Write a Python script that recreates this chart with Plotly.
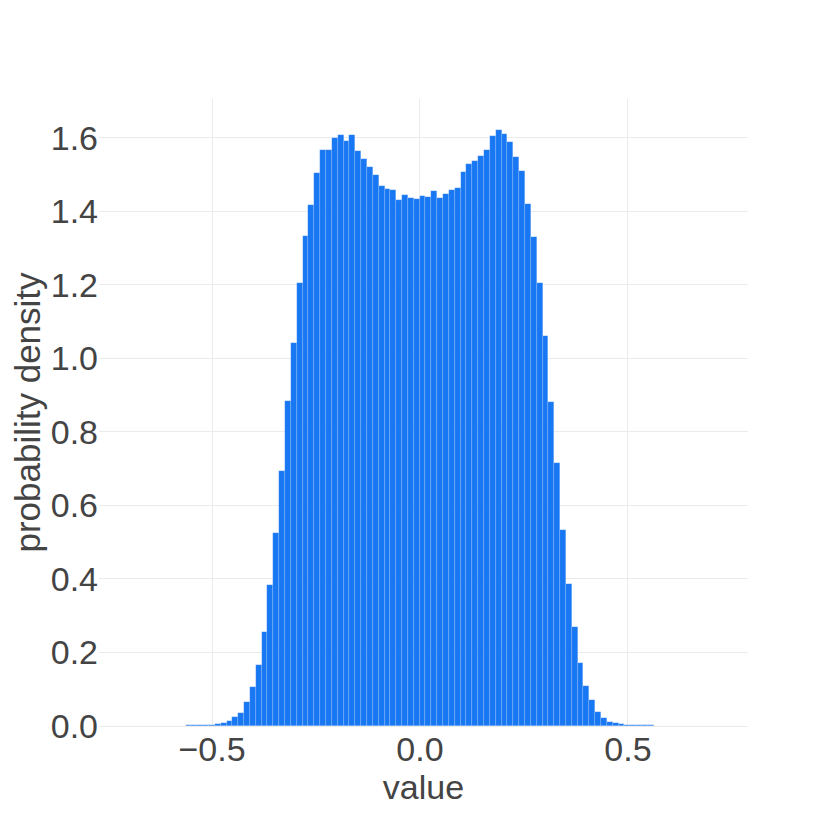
import numpy as np
import plotly.graph_objects as go

# Histogram (probability density), 100 equal bins
bin_start = -0.6903
bin_width = 0.01407
density = [
    0.0002, 0.0003, 0.0003, 0.0004, 0.0005, 0.0006, 0.0008, 0.0010,
    0.0012, 0.0015, 0.0020, 0.0025, 0.0030, 0.0038, 0.0055, 0.0090,
    0.0135, 0.0240, 0.0360, 0.0650, 0.1050, 0.1650, 0.2560, 0.3830,
    0.5250, 0.6930, 0.8840, 1.0430, 1.2040, 1.3330, 1.4170, 1.5040,
    1.5660, 1.5660, 1.6000, 1.6080, 1.5910, 1.6070, 1.5630, 1.5430,
    1.5200, 1.4980, 1.4680, 1.4610, 1.4580, 1.4310, 1.4440, 1.4360,
    1.4330, 1.4410, 1.4390, 1.4550, 1.4370, 1.4460, 1.4570, 1.4630,
    1.5060, 1.5290, 1.5370, 1.5490, 1.5660, 1.6050, 1.6200, 1.6110,
    1.5890, 1.5470, 1.5100, 1.4190, 1.3300, 1.2050, 1.0620, 0.8800,
    0.7150, 0.5330, 0.3850, 0.2680, 0.1700, 0.1090, 0.0710, 0.0380,
    0.0220, 0.0120, 0.0070, 0.0045, 0.0035, 0.0030, 0.0025, 0.0020,
    0.0015, 0.0012, 0.0010, 0.0008, 0.0006, 0.0005, 0.0004, 0.0003,
    0.0003, 0.0002, 0.0002, 0.0001,
]
x_range = [-0.7718, 0.7887]
x_title = "value"
y_title = "probability density"

n_bins = len(density)
centers = bin_start + bin_width * (np.arange(n_bins) + 0.5)

BLUE = "#1877F2"
GRID = "#EBEBEB"
TEXT = "#444444"
FONT = "Liberation Sans, Arial, sans-serif"

fig = go.Figure(
    go.Bar(
        x=centers,
        y=density,
        width=bin_width,
        marker=dict(color=BLUE, line=dict(color="rgba(255,255,255,0.3)", width=0.5)),
        showlegend=False,
    )
)

fig.update_layout(
    template="plotly_white",
    width=830,
    height=830,
    bargap=0,
    margin=dict(l=91, r=90, t=91, b=112),
    font=dict(family=FONT, size=34, color=TEXT),
    plot_bgcolor="white",
    paper_bgcolor="white",
)
fig.update_xaxes(
    title=dict(text=x_title, font=dict(family=FONT, size=34, color=TEXT), standoff=0),
    tickfont=dict(family=FONT, size=34, color=TEXT),
    range=x_range,
    dtick=0.5,
    tickformat=".1f",
    showgrid=True,
    gridcolor=GRID,
    zeroline=True,
    zerolinecolor=GRID,
    zerolinewidth=1,
    automargin=False,
)
fig.update_yaxes(
    title=dict(text=y_title, font=dict(family=FONT, size=35, color=TEXT)),
    tickfont=dict(family=FONT, size=34, color=TEXT),
    dtick=0.2,
    tickformat=".1f",
    showgrid=True,
    gridcolor=GRID,
    zeroline=True,
    zerolinecolor=GRID,
    zerolinewidth=1,
    automargin=False,
)

fig.write_html("out.html")
